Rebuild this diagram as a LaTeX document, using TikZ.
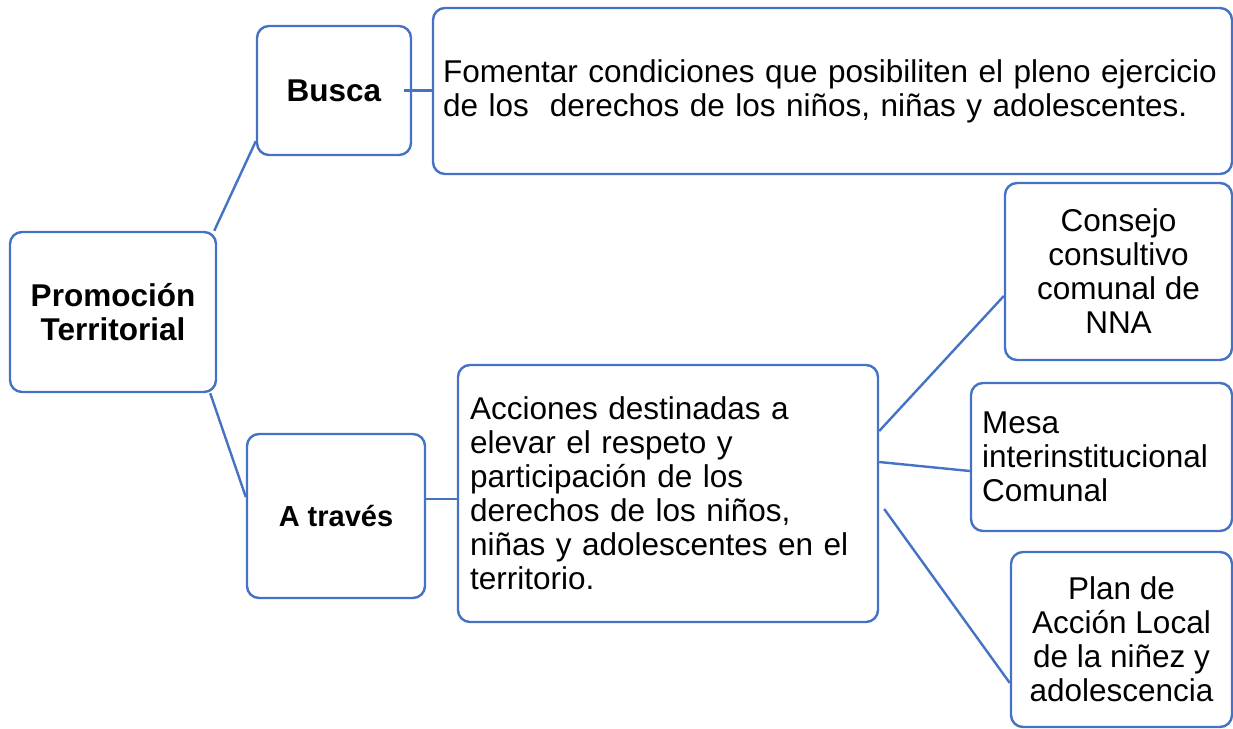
\documentclass[tikz,border=0pt]{standalone}
\usepackage{fontspec}
\setmainfont{Liberation Sans}
\usetikzlibrary{positioning}
\definecolor{boxblue}{HTML}{4472C4}
\tikzset{
  box/.style={draw=boxblue, line width=2.4pt, rounded corners=12pt, inner sep=0pt,
    font=\fontsize{31.5}{34}\selectfont},
  link/.style={draw=boxblue, line width=2.4pt},
}
\begin{document}
\begin{tikzpicture}[x=1pt, y=-1pt]
			\useasboundingbox (0,0) rectangle (1233,728);
			% left column
			\node[box, font=\fontsize{31.5}{34}\selectfont\bfseries, align=center,
			  minimum width=206, minimum height=160] (promo) at (113,312) {Promoción\\Territorial};
			\node[box, font=\fontsize{31.5}{34}\selectfont\bfseries,
			  minimum width=154, minimum height=129] (busca) at (334,90.5) {Busca};
			\node[box, font=\fontsize{29}{34}\selectfont\bfseries,
			  minimum width=178, minimum height=164] (atraves) at (336,516) {A través};
			% texts
			\node[box, align=left, inner xsep=10pt, text width=779pt,
			  minimum height=166] (fomenta) at (832.5,91)
			  {Fomentar condiciones que posibiliten el pleno ejercicio\\de los\ \ derechos de los niños, niñas y adolescentes.};
			\node[box, align=left, inner xsep=12pt, text width=396pt,
			  minimum height=257] (acciones) at (668,493.5)
			  {Acciones destinadas a\\elevar el respeto y\\participación de los\\derechos de los niños,\\niñas y adolescentes en el\\territorio.};
			% right column
			\node[box, align=center, minimum width=227, minimum height=177] (consejo) at (1118.5,271.5)
			  {Consejo\\consultivo\\comunal de\\NNA};
			\node[box, align=left, inner xsep=11pt, text width=239pt,
			  minimum height=148] (mesa) at (1101.5,457)
			  {Mesa\\interinstitucional\\Comunal};
			\node[box, align=center, minimum width=221, minimum height=175] (plan) at (1121.5,639.5)
			  {Plan de\\Acción Local\\de la niñez y\\adolescencia};
			% connectors
			\draw[link] ([xshift=-3]promo.north east) -- ([yshift=15]busca.south west);
			\draw[link] ([xshift=-7]promo.south east) -- ([yshift=19]atraves.west);
			\draw[link] ([xshift=-8]busca.east) -- (busca.east -| fomenta.west);
			\draw[link] ([yshift=17]atraves.east) -- ([yshift=-5.5]acciones.west);
			\draw[link] ([yshift=62.5]acciones.east) -- ([yshift=-24.5]consejo.west);
			\draw[link] ([yshift=31.5]acciones.east) -- ([yshift=-14]mesa.west);
			\draw[link] ([xshift=5,yshift=-15.5]acciones.east) -- ([yshift=-43.5]plan.west);
		\end{tikzpicture}
\end{document}
